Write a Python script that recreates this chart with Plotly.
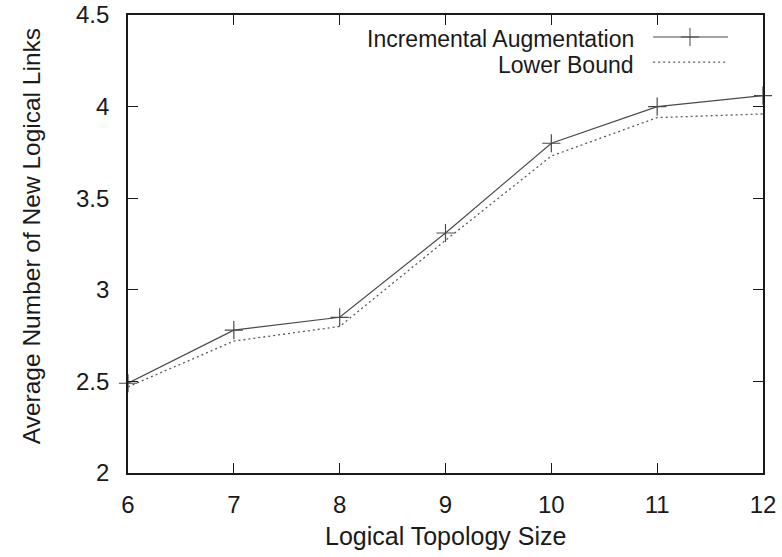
import plotly.graph_objects as go

# Logical topology sizes and averaged results
topology_size = [6, 7, 8, 9, 10, 11, 12]
incremental_augmentation = [2.49, 2.78, 2.85, 3.31, 3.80, 4.00, 4.06]
lower_bound = [2.47, 2.72, 2.80, 3.27, 3.73, 3.94, 3.96]

series_names = ["Incremental Augmentation", "Lower Bound"]
x_ticks = [6, 7, 8, 9, 10, 11, 12]
y_ticks = [2, 2.5, 3, 3.5, 4, 4.5]
x_title = "Logical Topology Size"
y_title = "Average Number of New Logical Links"

FONT = "Liberation Sans, Arial, Helvetica, sans-serif"
INK = "#1a1a1a"
SOLID_COLOR = "#4a4a4a"
DOT_COLOR = "#5a5a5a"

fig = go.Figure()

fig.add_trace(go.Scatter(
    x=topology_size, y=incremental_augmentation, mode="lines+markers",
    line=dict(color=SOLID_COLOR, width=1.2),
    marker=dict(symbol="cross-thin", size=13, line=dict(color=SOLID_COLOR, width=1.2)),
    showlegend=False, cliponaxis=False,
))
fig.add_trace(go.Scatter(
    x=topology_size, y=lower_bound, mode="lines",
    line=dict(color=DOT_COLOR, width=1.3, dash="2px,3px"),
    showlegend=False, cliponaxis=False,
))

# Key samples drawn on an overlay axis spanning the whole plotting area (0..1)
fig.add_trace(go.Scatter(
    x=[0.827, 0.945], y=[0.952, 0.952], mode="lines", xaxis="x2", yaxis="y2",
    line=dict(color=SOLID_COLOR, width=1.2), showlegend=False, hoverinfo="skip",
))
fig.add_trace(go.Scatter(
    x=[0.885], y=[0.952], mode="markers", xaxis="x2", yaxis="y2",
    marker=dict(symbol="cross-thin", size=13, line=dict(color=SOLID_COLOR, width=1.0)),
    showlegend=False, hoverinfo="skip",
))
fig.add_trace(go.Scatter(
    x=[0.827, 0.945], y=[0.897, 0.897], mode="lines", xaxis="x2", yaxis="y2",
    line=dict(color=DOT_COLOR, width=1.3, dash="2px,3px"), showlegend=False, hoverinfo="skip",
))

for name, ypos in zip(series_names, [0.9487, 0.8919]):
    fig.add_annotation(
        x=0.799, y=ypos, xref="x2", yref="y2", text=name, showarrow=False,
        xanchor="right", yanchor="middle", borderpad=0,
        font=dict(family=FONT, size=23, color=INK),
    )

# Axis titles
fig.add_annotation(
    x=0.5, y=-0.138, xref="paper", yref="paper", text=x_title, showarrow=False,
    xanchor="center", yanchor="middle", font=dict(family=FONT, size=25, color=INK),
)
fig.add_annotation(
    x=0, y=0.517, xref="paper", yref="paper", xshift=-97, text=y_title, showarrow=False,
    textangle=-90, xanchor="center", yanchor="middle", font=dict(family=FONT, size=24.5, color=INK),
)

axis_common = dict(
    showline=True, linecolor=INK, linewidth=1.6, mirror="ticks",
    ticks="inside", ticklen=10, tickwidth=1.4, tickcolor=INK,
    showgrid=False, zeroline=False, automargin=False,
    tickfont=dict(family=FONT, size=24, color=INK),
)

fig.update_layout(
    width=782, height=557,
    margin=dict(l=128, r=19, t=15, b=84),
    paper_bgcolor="white", plot_bgcolor="white",
    font=dict(family=FONT, color=INK),
    xaxis=dict(
        range=[6, 12], tickvals=x_ticks, ticktext=[str(v) for v in x_ticks],
        ticklabelstandoff=9,
        **axis_common,
    ),
    yaxis=dict(
        range=[2, 4.5], tickvals=y_ticks, ticktext=[f"{v:g}" for v in y_ticks],
        ticklabelstandoff=12,
        **axis_common,
    ),
    xaxis2=dict(range=[0, 1], overlaying="x", visible=False, fixedrange=True),
    yaxis2=dict(range=[0, 1], overlaying="y", visible=False, fixedrange=True),
    showlegend=False,
)

fig.write_html("out.html")
